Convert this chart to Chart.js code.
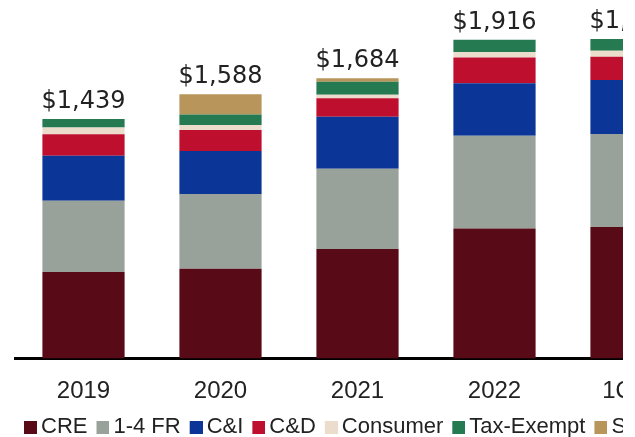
<!DOCTYPE html>
<html>
<head>
<meta charset="utf-8">
<script src="https://cdn.jsdelivr.net/npm/chart.js@4/dist/chart.umd.min.js"></script>
<style>
  body { margin: 0; background: #fff; }
  #frame { position: relative; width: 623px; height: 437px; overflow: hidden; }
  #holder { position: absolute; left: 0; top: 0; }
</style>
</head>
<body>
<div id="frame">
  <div id="holder"><canvas id="loanChart" width="760" height="448"></canvas></div>
</div>
<script>
// Loan balances by type, $ in millions
const periods = ["2019", "2020", "2021", "2022", "1Q23"];
const cre = [520, 540, 659, 781, 791];
const oneToFourFamily = [428, 449, 481, 558, 558];
const commercialIndustrial = [271, 259, 314, 316, 325];
const constructionDev = [129, 125, 110, 154, 140];
const consumer = [40, 30, 22, 33, 36];
const taxExempt = [51, 64, 78, 74, 70];
const sbaPpp = [0, 121, 20, 0, 0];

const series = [
    { label: "CRE", data: cre, color: "#580a16" },
    { label: "1-4 FR", data: oneToFourFamily, color: "#98a29a" },
    { label: "C&I", data: commercialIndustrial, color: "#0b3596" },
    { label: "C&D", data: constructionDev, color: "#be0f2e" },
    { label: "Consumer", data: consumer, color: "#ecdccb" },
    { label: "Tax-Exempt", data: taxExempt, color: "#267a52" },
    { label: "SBA PPP", data: sbaPpp, color: "#b8955a" },
];

// legend swatch: small square pushed to the right so it sits close to its text
function swatch(color) {
    const c = document.createElement("canvas");
    c.width = 27;
    c.height = 14;
    const g = c.getContext("2d");
    g.fillStyle = color;
    g.fillRect(14, 1, 13, 13);
    return c;
}

// stack totals written above each bar
const totalLabels = {
    id: "totalLabels",
    afterDatasetsDraw(chart) {
        const { ctx, scales: { x, y } } = chart;
        ctx.save();
        ctx.font = '24px "DejaVu Sans"';
        ctx.fillStyle = "#222";
        ctx.textAlign = "center";
        ctx.textBaseline = "alphabetic";
        periods.forEach((p, i) => {
            const total = chart.data.datasets.reduce((sum, ds) => sum + ds.data[i], 0);
            ctx.fillText("$" + total.toLocaleString("en-US"), x.getPixelForValue(i), y.getPixelForValue(total) - 11);
        });
        ctx.restore();
    }
};

const ctx = document.getElementById("loanChart").getContext("2d");
const chart = new Chart(ctx, {
    type: "bar",
    data: {
        labels: periods,
        datasets: series.map(s => ({
            label: s.label,
            data: s.data,
            backgroundColor: s.color,
            borderWidth: 0,
            barPercentage: 0.6,
            categoryPercentage: 1,
        })),
    },
    options: {
        responsive: false,
        animation: false,
        layout: { padding: { left: 15, right: 0, top: 8, bottom: 0 } },
        scales: {
            x: {
                stacked: true,
                grid: { color: "transparent", drawTicks: false, drawOnChartArea: false },
                border: { display: true, color: "#000", width: 3 },
                ticks: {
                    padding: 18,
                    color: "#222",
                    font: { family: '"Liberation Sans", Arial, sans-serif', size: 24 },
                },
                afterFit(scale) { scale.height -= 9.3; },
            },
            y: {
                stacked: true,
                position: "right",
                min: 0,
                max: 2107,
                grid: { display: false },
                border: { display: false },
                ticks: { display: false },
                afterFit(scale) { scale.width = 60; },
            },
        },
        plugins: {
            tooltip: { enabled: false },
            legend: {
                position: "bottom",
                align: "start",
                labels: {
                    usePointStyle: true,
                    pointStyleWidth: 13,
                    boxHeight: 13,
                    padding: 2,
                    color: "#222",
                    font: { family: '"Liberation Sans", Arial, sans-serif', size: 22 },
                    generateLabels(chart) {
                        const items = Chart.defaults.plugins.legend.labels.generateLabels(chart);
                        items.forEach(item => { item.pointStyle = swatch(item.fillStyle); });
                        return items;
                    },
                },
            },
        },
    },
    plugins: [totalLabels],
});
</script>
</body>
</html>
